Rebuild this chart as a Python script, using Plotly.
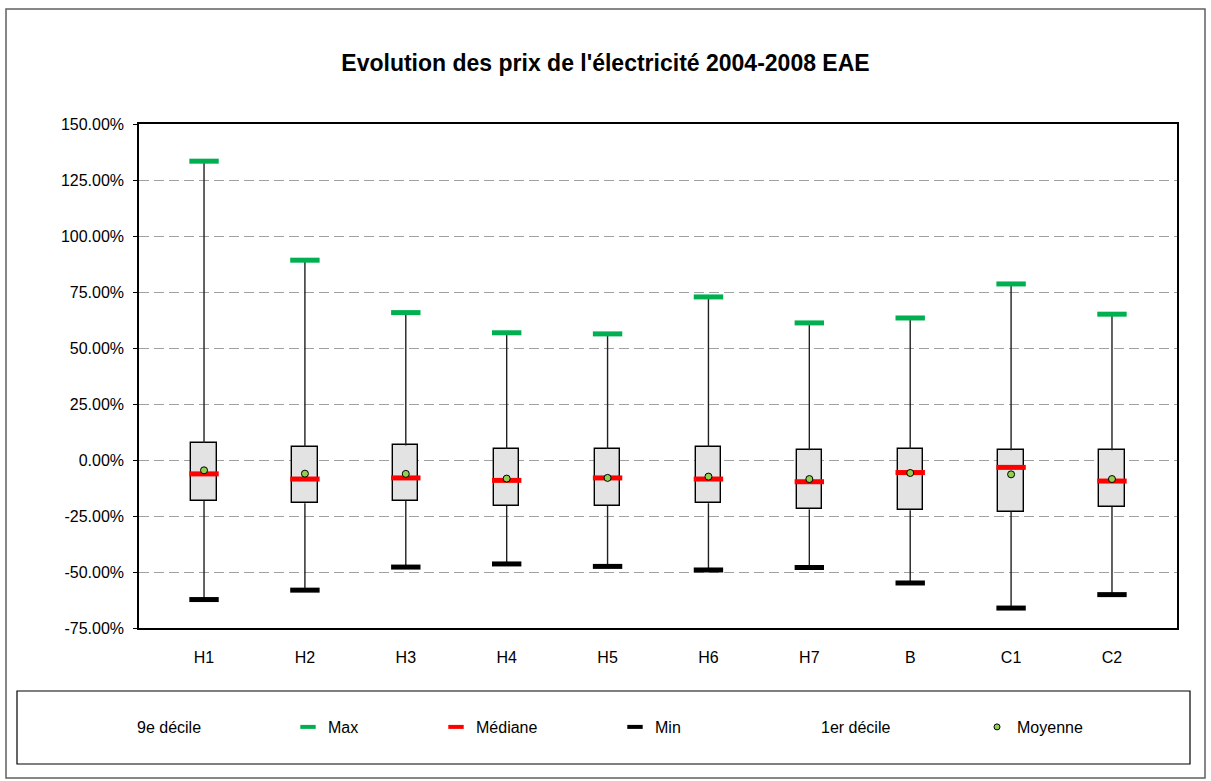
import plotly.graph_objects as go

# ---------------- data (values in %) ----------------
categories = ["H1", "H2", "H3", "H4", "H5", "H6", "H7", "B", "C1", "C2"]
max_vals = [133.4, 89.2, 65.8, 56.8, 56.3, 72.8, 61.2, 63.4, 78.6, 65.1]
decile9 = [7.6, 5.9, 6.5, 4.9, 4.9, 5.9, 4.4, 4.9, 4.4, 4.4]
median_vals = [-6.2, -8.5, -8.0, -9.1, -8.0, -8.5, -9.7, -5.6, -3.3, -9.4]
mean_vals = [-4.6, -6.1, -6.2, -8.3, -8.0, -7.4, -8.5, -5.8, -6.4, -8.5]
decile1 = [-18.1, -19.3, -18.1, -20.5, -20.5, -19.3, -22.0, -22.4, -23.0, -20.9]
min_vals = [-62.3, -58.1, -47.8, -46.4, -47.5, -49.1, -48.0, -54.9, -66.1, -60.1]

series_names = ["9e décile", "Max", "Médiane", "Min", "1er décile", "Moyenne"]

y_ticks = [-75, -50, -25, 0, 25, 50, 75, 100, 125, 150]
y_ticktext = [f"{v:.2f}%" for v in y_ticks]

# ---------------- layout geometry (pixels) ----------------
W, H = 1211, 781
L, R, T, B = 139, 34, 124, 153
PW, PH = W - L - R, H - T - B


def px_x(p):
    return (p - L) / PW


def px_y(p):
    return (H - B - p) / PH


FONT = "Liberation Sans, Arial, sans-serif"
C_MAX, C_MED, C_MIN, C_MEAN = "#00B050", "#FF0000", "#000000", "#92D050"

fig = go.Figure()

# whiskers (drawn outside the box)
wx, wy = [], []
for c, hi, d9, d1, lo in zip(categories, max_vals, decile9, decile1, min_vals):
    wx += [c, c, None, c, c, None]
    wy += [d9, hi, None, d1, lo, None]
fig.add_trace(go.Scatter(x=wx, y=wy, mode="lines", line=dict(color="#202020", width=1.4),
                         showlegend=False, hoverinfo="skip"))

# boxes (1er décile -> 9e décile)
fig.add_trace(go.Bar(x=categories, y=[a - b for a, b in zip(decile9, decile1)], base=decile1,
                     width=0.25, marker=dict(color="#E3E3E3", line=dict(color="#000000", width=1.4)),
                     showlegend=False, hoverinfo="skip"))

# point marks
fig.add_trace(go.Scatter(x=categories, y=max_vals, mode="markers", name="Max", showlegend=False,
                         marker=dict(symbol="line-ew", size=21, line=dict(color=C_MAX, width=5))))
fig.add_trace(go.Scatter(x=categories, y=median_vals, mode="markers", name="Médiane", showlegend=False,
                         marker=dict(symbol="line-ew", size=21, line=dict(color=C_MED, width=5))))
fig.add_trace(go.Scatter(x=categories, y=min_vals, mode="markers", name="Min", showlegend=False,
                         marker=dict(symbol="line-ew", size=21, line=dict(color=C_MIN, width=5))))
fig.add_trace(go.Scatter(x=categories, y=mean_vals, mode="markers", name="Moyenne", showlegend=False,
                         marker=dict(symbol="circle", size=7, color=C_MEAN,
                                     line=dict(color="#000000", width=1))))

# legend entries (small symbols, as in the original)
legend_markers = [
    dict(color="rgba(0,0,0,0)", size=1),
    dict(symbol="line-ew", size=11, line=dict(color=C_MAX, width=4)),
    dict(symbol="line-ew", size=11, line=dict(color=C_MED, width=4)),
    dict(symbol="line-ew", size=11, line=dict(color=C_MIN, width=4)),
    dict(color="rgba(0,0,0,0)", size=1),
    dict(symbol="circle", size=6, color=C_MEAN, line=dict(color="#000000", width=1)),
]
legend_text_starts = [137, 328, 476, 655, 821, 1017]
legend_layout = {}
for i, (name, mk, ts) in enumerate(zip(series_names, legend_markers, legend_text_starts)):
    key = "legend" if i == 0 else f"legend{i + 1}"
    fig.add_trace(go.Scatter(x=[None], y=[None], mode="markers", name=name, marker=mk,
                             legend=key, showlegend=True, hoverinfo="skip"))
    legend_layout[key] = dict(x=px_x(ts - 40), y=px_y(727), xanchor="left", yanchor="middle",
                              bgcolor="rgba(0,0,0,0)", borderwidth=0,
                              font=dict(family=FONT, size=16, color="#000000"))

fig.update_layout(
    width=W, height=H,
    margin=dict(l=L, r=R, t=T, b=B),
    paper_bgcolor="#FFFFFF", plot_bgcolor="#FFFFFF",
    font=dict(family=FONT, size=16, color="#000000"),
    title=dict(text="<b>Evolution des prix de l'électricité 2004-2008 EAE</b>",
               x=0.5, xref="container", xanchor="center",
               y=1 - 63 / H, yref="container", yanchor="middle",
               font=dict(family=FONT, size=23, color="#000000")),
    showlegend=True,
    bargap=0,
    **legend_layout,
)

fig.update_xaxes(type="category", categoryorder="array", categoryarray=categories,
                 showgrid=False, showline=True, linecolor="#000000", linewidth=1.5, mirror=True,
                 ticks="", ticklabelstandoff=14, tickfont=dict(family=FONT, size=16))
fig.update_yaxes(range=[-75, 150], tickvals=y_ticks, ticktext=y_ticktext,
                 showgrid=True, gridcolor="#A0A0A0", gridwidth=1.3, griddash="10px,5px",
                 zeroline=False, showline=True, linecolor="#000000", linewidth=1.5, mirror=True,
                 ticks="outside", ticklen=4, tickcolor="#000000",
                 ticklabelstandoff=6, tickfont=dict(family=FONT, size=16))

# outer chart border and legend frame
fig.add_shape(type="rect", xref="paper", yref="paper",
              x0=px_x(6), x1=px_x(1205), y0=px_y(778), y1=px_y(9),
              line=dict(color="#606060", width=1.5), fillcolor="rgba(0,0,0,0)", layer="below")
fig.add_shape(type="rect", xref="paper", yref="paper",
              x0=px_x(17), x1=px_x(1190), y0=px_y(764), y1=px_y(691),
              line=dict(color="#000000", width=1.2), fillcolor="rgba(0,0,0,0)", layer="below")

fig.write_html("out.html", config={"displayModeBar": False},
               post_script="document.body.style.margin='0';")
